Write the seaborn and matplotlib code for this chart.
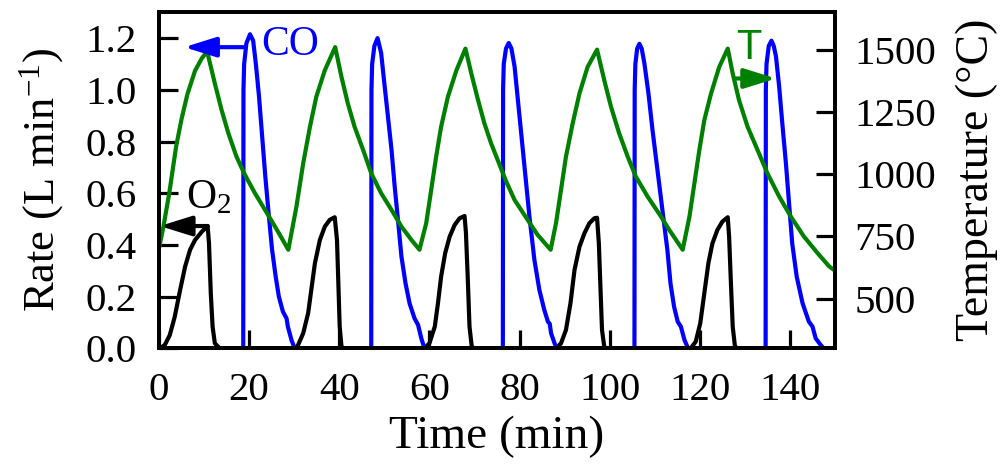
import matplotlib
matplotlib.use("Agg")
import matplotlib.pyplot as plt
import seaborn as sns

# ---------------- data ----------------
temp_time = [0, 1.0, 2.3, 3.8, 5.0, 6.3, 8.0, 9.5, 10.7,
             12.4, 13.9, 15.4, 17.2, 18.9, 21.3, 24.2, 26.4, 28.7,
             30.5, 32.0, 33.5, 34.9, 36.8, 39.1,
             40.5, 41.9, 43.4, 45.3, 47.1, 49.3, 51.6, 53.8, 56.0, 57.8,
             59.3, 60.4, 61.5, 62.6, 64.1, 66.0, 68.0,
             69.3, 70.8, 72.2, 73.7, 75.3, 76.9, 78.9, 81.8, 84.0, 86.9,
             88.1, 89.2, 90.3, 91.8, 93.3, 95.1, 97.2,
             98.8, 100.3, 102.1, 104.0, 105.8, 108.4, 111.4, 113.2, 116.2,
             117.7, 118.8, 119.9, 121.0, 122.5, 124.3, 126.2,
             127.3, 128.7, 130.6, 132.8, 135.0, 137.6, 140.2, 143.1, 146.1, 148.7, 150.0]
temp_vals = [700, 790, 925, 1110, 1220, 1320, 1415, 1465, 1492,
             1364, 1257, 1164, 1070, 1003, 923, 836, 769, 696,
             869, 1043, 1190, 1310, 1417, 1510,
             1390, 1284, 1190, 1097, 1003, 923, 856, 789, 736, 696,
             803, 936, 1070, 1190, 1310, 1417, 1504,
             1404, 1297, 1204, 1123, 1050, 976, 896, 816, 756, 696,
             803, 936, 1070, 1204, 1324, 1430, 1500,
             1377, 1270, 1164, 1070, 990, 910, 829, 776, 696,
             829, 963, 1097, 1217, 1324, 1430, 1504,
             1404, 1297, 1190, 1097, 1003, 910, 829, 749, 683, 629, 612]

co_time = [0, 18.7, 18.75, 18.9, 19.4, 20.2, 20.9, 21.5, 22.2, 22.9, 23.6, 24.4, 25.1,
           25.9, 26.6, 27.5, 28.3, 28.6, 29.4, 30.1,
           47.1, 47.15, 47.3, 47.8, 48.5, 49.3, 50.0, 50.8, 51.6, 52.3, 53.1, 53.8,
           54.7, 55.6, 56.7, 57.5, 58.2, 58.9,
           76.3, 76.35, 76.5, 77.0, 77.6, 78.2, 78.9, 80.0, 81.1, 82.2, 83.3, 84.4,
           85.5, 86.3, 86.7, 87.0, 87.9, 88.3,
           105.5, 105.55, 105.7, 106.1, 106.6, 107.1, 107.7, 108.6, 109.5, 110.6,
           111.7, 112.8, 113.5, 114.3, 115.1, 115.8, 116.6, 117.4,
           134.6, 134.65, 134.8, 135.3, 135.9, 136.4, 136.9, 137.6, 138.3, 139.1,
           139.8, 140.5, 141.5, 142.8, 144.2, 145.0, 145.7, 146.8, 147.5, 150.0]
co_rate = [0, 0, 1.0, 1.1, 1.18, 1.215, 1.19, 1.10, 0.974, 0.819, 0.664, 0.509, 0.381,
           0.277, 0.2, 0.142, 0.116, 0.084, 0.032, 0.0,
           0, 1.0, 1.1, 1.17, 1.20, 1.142, 1.026, 0.897, 0.768, 0.626, 0.484, 0.355,
           0.252, 0.174, 0.116, 0.09, 0.039, 0.0,
           0, 1.0, 1.1, 1.16, 1.181, 1.16, 1.09, 0.897, 0.703, 0.509, 0.342, 0.226,
           0.148, 0.103, 0.095, 0.058, 0.013, 0.0,
           0, 1.0, 1.1, 1.16, 1.178, 1.16, 1.103, 0.987, 0.845, 0.69,
           0.535, 0.381, 0.25, 0.16, 0.103, 0.084, 0.032, 0.0,
           0, 1.0, 1.1, 1.17, 1.19, 1.17, 1.129, 1.013, 0.871, 0.716,
           0.561, 0.406, 0.277, 0.174, 0.103, 0.084, 0.039, 0.013, 0.0, 0.0]

o2_time = [0, 0.5, 1.3, 2.4, 3.5, 4.7, 5.8, 6.9, 8.0, 9.5, 10.8, 11.1, 11.5, 11.9, 12.4, 13.5,
           30.1, 30.8, 32.0, 33.1, 33.8, 34.6, 35.7, 36.8, 37.9, 39.0, 39.5, 39.8, 40.1, 40.5, 41.0,
           58.9, 60.0, 61.2, 61.9, 62.6, 63.5, 64.5, 65.6, 66.7, 67.8, 68.1, 68.5, 68.9, 69.4, 70.0,
           88.1, 89.2, 90.3, 91.3, 92.2, 93.3, 94.4, 95.5, 96.6, 97.2, 97.6, 98.0, 98.3, 98.8, 99.3,
           118.0, 119.1, 120.1, 121.0, 121.9, 122.8, 123.9, 125.0, 126.2, 126.5, 126.9, 127.3,
           127.8, 128.5, 150.0]
o2_rate = [0, 0.003, 0.013, 0.051, 0.122, 0.226, 0.316, 0.381, 0.419, 0.451, 0.473, 0.406,
           0.213, 0.084, 0.019, 0,
           0, 0.01, 0.058, 0.136, 0.226, 0.329, 0.419, 0.471, 0.497, 0.507, 0.419, 0.252,
           0.084, 0.006, 0,
           0, 0.019, 0.084, 0.174, 0.277, 0.368, 0.432, 0.477, 0.503, 0.512, 0.45, 0.277,
           0.084, 0.006, 0,
           0, 0.019, 0.071, 0.174, 0.303, 0.393, 0.445, 0.484, 0.503, 0.505, 0.406, 0.213,
           0.071, 0.006, 0,
           0, 0.026, 0.097, 0.213, 0.329, 0.406, 0.458, 0.49, 0.507, 0.432, 0.252, 0.084,
           0.006, 0, 0]

x_ticks = [0, 20, 40, 60, 80, 100, 120, 140]
rate_ticks = [0.0, 0.2, 0.4, 0.6, 0.8, 1.0, 1.2]
temp_ticks = [500, 750, 1000, 1250, 1500]

# ---------------- style ----------------
sns.set_style("ticks")
plt.rcParams["font.family"] = ["Liberation Serif", "DejaVu Serif"]
plt.rcParams["mathtext.fontset"] = "custom"
plt.rcParams["mathtext.rm"] = "Liberation Serif"
plt.rcParams["mathtext.it"] = "Liberation Serif:italic"
for key in ("text.color", "axes.labelcolor", "xtick.color", "ytick.color",
            "xtick.labelcolor", "ytick.labelcolor", "axes.edgecolor"):
    plt.rcParams[key] = "black"

BLUE = "#0000FF"
GREEN = "#008000"
LW = 3.0
TICK_FS = 29.5

fig = plt.figure(figsize=(10.08, 4.67), dpi=100)
ax = fig.add_axes([0.1577, 0.2542, 0.6707, 0.7195])
ax2 = ax.twinx()

sns.lineplot(x=o2_time, y=o2_rate, ax=ax, color="black", linewidth=LW, sort=False, estimator=None)
sns.lineplot(x=co_time, y=co_rate, ax=ax, color=BLUE, linewidth=LW, sort=False, estimator=None)
sns.lineplot(x=temp_time, y=temp_vals, ax=ax2, color=GREEN, linewidth=LW, sort=False, estimator=None)

ax.set_xlim(0, 150)
ax.set_ylim(0, 1.3)
ax2.set_ylim(300, 1650)

ax.set_xticks(x_ticks)
ax.set_xticklabels([str(v) for v in x_ticks])
ax.set_yticks(rate_ticks)
ax.set_yticklabels([f"{v:.1f}" for v in rate_ticks])
ax2.set_yticks(temp_ticks)
ax2.set_yticklabels([str(v) for v in temp_ticks])

for a in (ax, ax2):
    for s in a.spines.values():
        s.set_linewidth(2.7)
        s.set_color("black")

ax.tick_params(axis="x", direction="in", length=13, width=2.3, labelsize=TICK_FS, pad=17,
               top=False, colors="black")
ax.tick_params(axis="y", direction="in", length=14, width=2.3, labelsize=TICK_FS, pad=16,
               right=False, colors="black")
ax2.tick_params(axis="y", direction="in", length=14, width=2.3, labelsize=TICK_FS, pad=14,
                colors="black")

ax.set_xlabel("Time (min)", fontsize=34, labelpad=5, color="black")
ax.set_ylabel("Rate (L min$^{\\mathregular{-1}}$)", fontsize=32, labelpad=14, color="black")
ax2.set_ylabel("Temperature (°C)", fontsize=33, labelpad=14, color="black")

# ---------------- annotations ----------------
arrow_kw = dict(arrowstyle="-|>,head_length=0.8,head_width=0.25", mutation_scale=24,
                shrinkA=0, shrinkB=0, lw=LW)
ax2.annotate("", xy=(5.6, 1.165), xycoords=ax.transData,
             xytext=(19.0, 1.165), textcoords=ax.transData,
             arrowprops=dict(color=BLUE, **arrow_kw))
ax2.text(22.8, 1.135, "CO", transform=ax.transData, color=BLUE, fontsize=30,
         ha="left", va="baseline")

ax2.annotate("", xy=(0.2, 0.473), xycoords=ax.transData,
             xytext=(10.8, 0.473), textcoords=ax.transData,
             arrowprops=dict(color="black", **arrow_kw))
ax2.text(6.1, 0.542, "O$_{\\mathregular{2}}$", transform=ax.transData, color="black",
         fontsize=30, ha="left", va="baseline")

ax2.annotate("", xy=(136.9, 1384), xytext=(128.0, 1384),
             arrowprops=dict(color=GREEN, **arrow_kw))
ax2.text(128.0, 1464, "T", color=GREEN, fontsize=30, ha="left", va="baseline",
         family=["Liberation Sans", "DejaVu Sans"])

fig.savefig("out.png", dpi=100)
